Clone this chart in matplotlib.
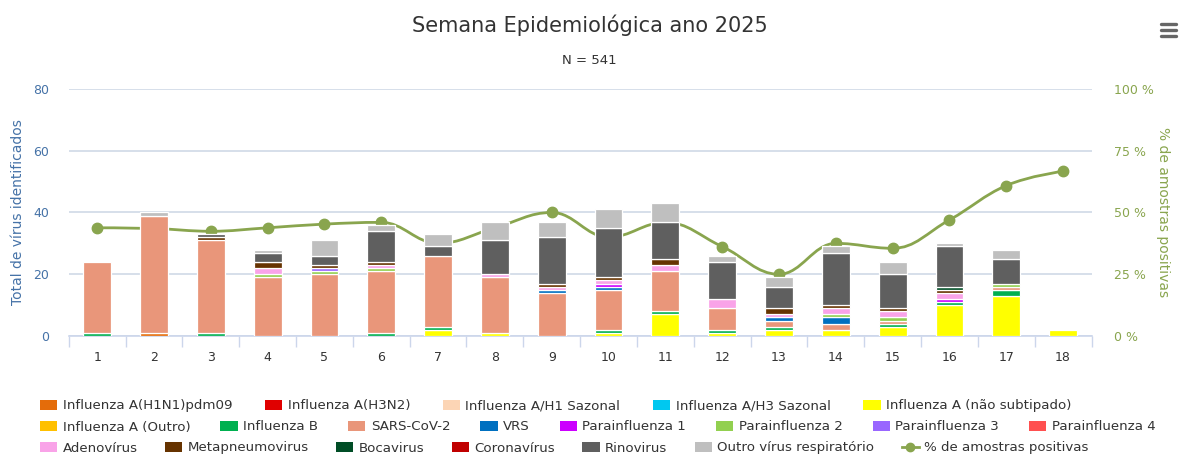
import numpy as np
import matplotlib
matplotlib.use('Agg')
import matplotlib.pyplot as plt
from matplotlib.patches import Patch
from matplotlib.lines import Line2D
from matplotlib.path import Path
from matplotlib.patches import PathPatch

# Semanas epidemiologicas
weeks = list(range(1, 19))

# Virus identificados por semana (ordem de empilhamento: de baixo para cima)
h1n1 =        [0, 1, 0, 0, 0, 0, 0, 0, 0, 0, 0, 0, 0, 0, 0, 0, 0, 0]
h3n2 =        [0] * 18
h1_sazonal =  [0] * 18
h3_sazonal =  [0] * 18
flu_a_nst =   [0, 0, 0, 0, 0, 0, 2, 1, 0, 1, 7, 1, 2, 2, 3, 10, 13, 2]
flu_a_outro = [0] * 18
flu_b =       [1, 0, 1, 0, 0, 1, 1, 0, 0, 1, 1, 1, 1, 0, 1, 1, 2, 0]
sars_cov2 =   [23, 38, 30, 19, 20, 20, 23, 18, 14, 13, 13, 7, 2, 2, 1, 0, 1, 0]
vrs =         [0, 0, 0, 0, 0, 0, 0, 0, 1, 1, 0, 0, 1, 2, 0, 0, 0, 0]
para1 =       [0, 0, 0, 0, 0, 0, 0, 0, 0, 1, 0, 0, 0, 0, 0, 1, 0, 0]
para2 =       [0, 0, 0, 1, 1, 1, 0, 0, 0, 0, 0, 0, 0, 1, 1, 0, 1, 0]
para3 =       [0, 0, 0, 0, 1, 0, 0, 0, 0, 0, 0, 0, 0, 0, 0, 0, 0, 0]
para4 =       [0] * 18
adeno =       [0, 0, 0, 2, 0, 1, 0, 1, 1, 1, 2, 3, 1, 2, 2, 2, 0, 0]
metapneumo =  [0, 0, 1, 2, 1, 1, 0, 0, 1, 1, 2, 0, 2, 1, 1, 1, 0, 0]
boca =        [0, 0, 0, 0, 0, 0, 0, 0, 0, 0, 0, 0, 0, 0, 0, 1, 0, 0]
corona =      [0] * 18
rino =        [0, 0, 1, 3, 3, 10, 3, 11, 15, 16, 12, 12, 7, 17, 11, 13, 8, 0]
outro_resp =  [0, 1, 0, 1, 5, 2, 4, 6, 5, 6, 6, 2, 3, 2, 4, 1, 3, 0]

# % de amostras positivas
pct_pos = [43.8, 43.5, 42.4, 43.8, 45.3, 46.0, 37.5, 43.8, 50.0, 40.0,
           46.0, 36.2, 25.0, 37.5, 35.5, 47.0, 60.9, 66.7]

series = [
    ('Influenza A(H1N1)pdm09', h1n1, '#e46c0a'),
    ('Influenza A(H3N2)', h3n2, '#e00000'),
    ('Influenza A/H1 Sazonal', h1_sazonal, '#fcd5b5'),
    ('Influenza A/H3 Sazonal', h3_sazonal, '#00c8f0'),
    ('Influenza A (não subtipado)', flu_a_nst, '#ffff00'),
    ('Influenza A (Outro)', flu_a_outro, '#ffc000'),
    ('Influenza B', flu_b, '#00b050'),
    ('SARS-CoV-2', sars_cov2, '#e9967a'),
    ('VRS', vrs, '#0070c0'),
    ('Parainfluenza 1', para1, '#cc00ff'),
    ('Parainfluenza 2', para2, '#92d050'),
    ('Parainfluenza 3', para3, '#9966ff'),
    ('Parainfluenza 4', para4, '#ff5050'),
    ('Adenovírus', adeno, '#f9a3e8'),
    ('Metapneumovirus', metapneumo, '#663300'),
    ('Bocavirus', boca, '#004d26'),
    ('Coronavírus', corona, '#c00000'),
    ('Rinovirus', rino, '#5f5f5f'),
    ('Outro vírus respiratório', outro_resp, '#bfbfbf'),
]
line_label = '% de amostras positivas'
line_color = '#89a54e'
blue = '#4572a7'


def spline_path(xs, ys, smoothing=1.5):
    # curva suave parecida com a do Highcharts
    n = len(xs)
    left = [(xs[0], ys[0])] * n
    right = [(xs[0], ys[0])] * n
    for i in range(n):
        x, y = xs[i], ys[i]
        lc = (x, y)
        rc = (x, y)
        if 0 < i < n - 1:
            lx, ly = xs[i - 1], ys[i - 1]
            nx, ny = xs[i + 1], ys[i + 1]
            lcx = (smoothing * x + lx) / (smoothing + 1)
            lcy = (smoothing * y + ly) / (smoothing + 1)
            rcx = (smoothing * x + nx) / (smoothing + 1)
            rcy = (smoothing * y + ny) / (smoothing + 1)
            corr = (rcy - lcy) * (rcx - x) / (rcx - lcx) + y - rcy
            lcy += corr
            rcy += corr
            if lcy > max(ly, y):
                lcy = max(ly, y); rcy = 2 * y - lcy
            elif lcy < min(ly, y):
                lcy = min(ly, y); rcy = 2 * y - lcy
            if rcy > max(ny, y):
                rcy = max(ny, y); lcy = 2 * y - rcy
            elif rcy < min(ny, y):
                rcy = min(ny, y); lcy = 2 * y - rcy
            lc = (lcx, lcy)
            rc = (rcx, rcy)
        left[i] = lc
        right[i] = rc
    verts = [(xs[0], ys[0])]
    codes = [Path.MOVETO]
    for i in range(1, n):
        verts += [right[i - 1], left[i], (xs[i], ys[i])]
        codes += [Path.CURVE4] * 3
    return Path(verts, codes)


fig = plt.figure(figsize=(11.79, 4.58), dpi=100)
ax = fig.add_axes([0.0583, 0.2664, 0.8675, 0.5393])
ax2 = ax.twinx()
ax.set_zorder(ax2.get_zorder() + 1)
ax.patch.set_visible(False)

x = np.array(weeks)
bottom = np.zeros(len(weeks))
for name, vals, color in series:
    v = np.array(vals, dtype=float)
    m = v > 0
    if m.any():
        ax.bar(x[m], v[m], width=0.49, bottom=bottom[m], color=color,
               edgecolor='white', linewidth=0.9, zorder=3)
    bottom += v

# linha de % no eixo da direita
p = spline_path(list(x.astype(float)), pct_pos)
ax2.add_patch(PathPatch(p, fill=False, edgecolor=line_color, lw=2, zorder=2))
ax2.plot(x, pct_pos, 'o', color=line_color, markersize=7.5, zorder=3)

ax.set_xlim(0.5, 18.5)
ax.set_ylim(0, 80)
ax2.set_ylim(0, 100)
ax.set_yticks([0, 20, 40, 60, 80])
ax2.set_yticks([0, 25, 50, 75, 100])
ax2.set_yticklabels([f'{t} %' for t in [0, 25, 50, 75, 100]])
ax2.grid(axis='y', color='#d3dce8', lw=1.3, zorder=0)
ax2.set_axisbelow(True)

ax.set_xticks(weeks)
ax.set_xticks(np.arange(0.5, 19, 1), minor=True)
ax.tick_params(axis='x', which='major', length=0, pad=11, labelsize=9, labelcolor='#333333')
ax.tick_params(axis='x', which='minor', length=8, color='#ccd6eb', width=1)
ax.tick_params(axis='y', length=0, pad=14, labelsize=9, labelcolor=blue)
ax2.tick_params(axis='y', length=0, pad=16, labelsize=9, labelcolor=line_color)

for a in (ax, ax2):
    for s in ('top', 'left', 'right'):
        a.spines[s].set_visible(False)
ax.spines['bottom'].set_color('#ccd6eb')
ax.spines['bottom'].set_linewidth(1.2)
ax2.spines['bottom'].set_visible(False)

ax.set_ylabel('Total de vírus identificados', color=blue, fontsize=10, labelpad=6)
ax2.set_ylabel(line_label, color=line_color, fontsize=10, rotation=270,
               labelpad=12)

fig.text(0.5, 1 - 25 / 458, 'Semana Epidemiológica ano 2025', ha='center', va='center',
         fontsize=15, color='#333333')
fig.text(0.5, 1 - 60 / 458, 'N = 541', ha='center', va='center', fontsize=9.5,
         color='#333333')

# menu
for yy in (24, 30, 36):
    fig.add_artist(Line2D([1161 / 1179, 1176 / 1179], [1 - yy / 458] * 2,
                          color='#666666', lw=2.4, solid_capstyle='round'))

# legenda em 3 linhas
handles = [Patch(facecolor=c, edgecolor='none', label=n) for n, _, c in series]
handles.append(Line2D([], [], color=line_color, lw=2, marker='o', markersize=6,
                      label=line_label))
rows = [handles[0:5], handles[5:13], handles[13:]]
row_y = [406, 427, 448]
row_spacing = [2.45, 2.25, 2.05]
for r, yy, cs in zip(rows, row_y, row_spacing):
    leg = fig.legend(handles=r, loc='center left',
                     bbox_to_anchor=(40 / 1179, 1 - yy / 458), ncol=len(r),
                     frameon=False, fontsize=9.6, columnspacing=cs,
                     handletextpad=0.4, handlelength=1.3, handleheight=0.85,
                     borderpad=0, borderaxespad=0)
    for t in leg.get_texts():
        t.set_color('#333333')

fig.savefig('out.png', dpi=100)
